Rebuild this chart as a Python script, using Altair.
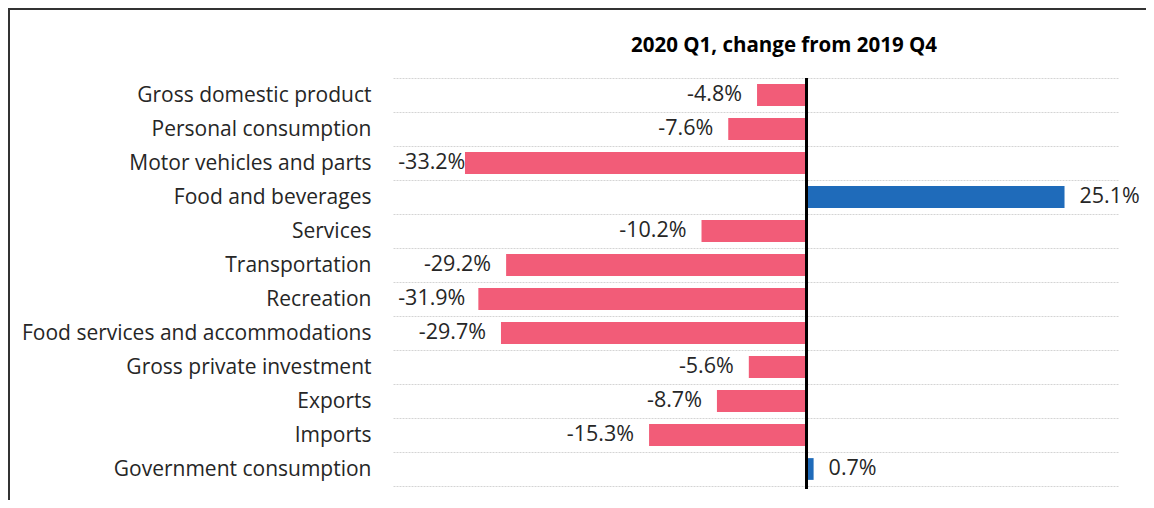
import altair as alt
import pandas as pd

categories = [
    "Gross domestic product",
    "Personal consumption",
    "Motor vehicles and parts",
    "Food and beverages",
    "Services",
    "Transportation",
    "Recreation",
    "Food services and accommodations",
    "Gross private investment",
    "Exports",
    "Imports",
    "Government consumption",
]
values = [-4.8, -7.6, -33.2, 25.1, -10.2, -29.2, -31.9, -29.7, -5.6, -8.7, -15.3, 0.7]
title_text = ["2020 Q1, change from 2019 Q4"]

df = pd.DataFrame({"cat": categories, "v": values})

FONT = "Open Sans"
PINK = "#F25C78"
BLUE = "#1F6BBA"
TEXT = "#262626"

W, H = 725, 408
xscale = alt.Scale(domain=[-40.2, 30.3], nice=False, zero=False)
yscale = alt.Scale(paddingInner=0, paddingOuter=0)
LABEL_EXPR = "(datum.v < 0 ? '-' : '') + format(abs(datum.v), '.1f') + '%'"

base = alt.Chart(df)

bars = base.mark_bar(height={"band": 0.64}).encode(
    y=alt.Y(
        "cat:N",
        sort=categories,
        scale=yscale,
        title=None,
        axis=alt.Axis(
            tickBand="extent",
            ticks=False,
            domain=False,
            grid=True,
            gridColor="#d4d4d4",
            gridDash=[2, 1],
            gridWidth=1,
            labelFont=FONT,
            labelFontSize=21,
            labelColor=TEXT,
            labelPadding=22,
            labelLimit=400,
        ),
    ),
    x=alt.X("v:Q", scale=xscale, axis=None),
    color=alt.condition("datum.v < 0", alt.value(PINK), alt.value(BLUE)),
)

neg_labels = (
    base.transform_filter("datum.v < 0")
    .transform_calculate(label=LABEL_EXPR, lx="max(datum.v, -31.7)")
    .mark_text(align="right", dx=-15, font=FONT, fontSize=21.5, color=TEXT)
    .encode(
        y=alt.Y("cat:N", sort=categories, scale=yscale),
        x=alt.X("lx:Q", scale=xscale),
        text="label:N",
    )
)

pos_labels = (
    base.transform_filter("datum.v >= 0")
    .transform_calculate(label=LABEL_EXPR)
    .mark_text(align="left", dx=15, font=FONT, fontSize=21.5, color=TEXT)
    .encode(
        y=alt.Y("cat:N", sort=categories, scale=yscale),
        x=alt.X("v:Q", scale=xscale),
        text="label:N",
    )
)

zero = base.mark_rule(color="black", strokeWidth=2).encode(
    x=alt.datum(0), y=alt.value(0), y2=alt.value(H + 3)
)

frame_left = base.mark_rule(color="#333333", strokeWidth=2).encode(
    x=alt.value(-384), y=alt.value(-69), y2=alt.value(H + 20)
)
frame_top = base.mark_rule(color="#333333", strokeWidth=2).encode(
    x=alt.value(-385), x2=alt.value(W + 30), y=alt.value(-69)
)

title = (
    alt.Chart(pd.DataFrame({"t": title_text}))
    .mark_text(
        font=FONT,
        fontSize=20.5,
        fontWeight="bold",
        color="black",
        align="center",
        baseline="alphabetic",
    )
    .encode(text="t:N", x=alt.value(391), y=alt.value(-26))
)

chart = (
    alt.layer(bars, neg_labels, pos_labels, zero, frame_left, frame_top, title)
    .properties(
        width=W,
        height=H,
        autosize=alt.AutoSizeParams(type="none"),
        padding={"left": 385, "top": 70, "right": 28, "bottom": 14},
    )
    .configure(background="white")
    .configure_view(strokeWidth=0, stroke="transparent")
)

chart.save("out.html", embed_options={"renderer": "svg", "actions": False})
